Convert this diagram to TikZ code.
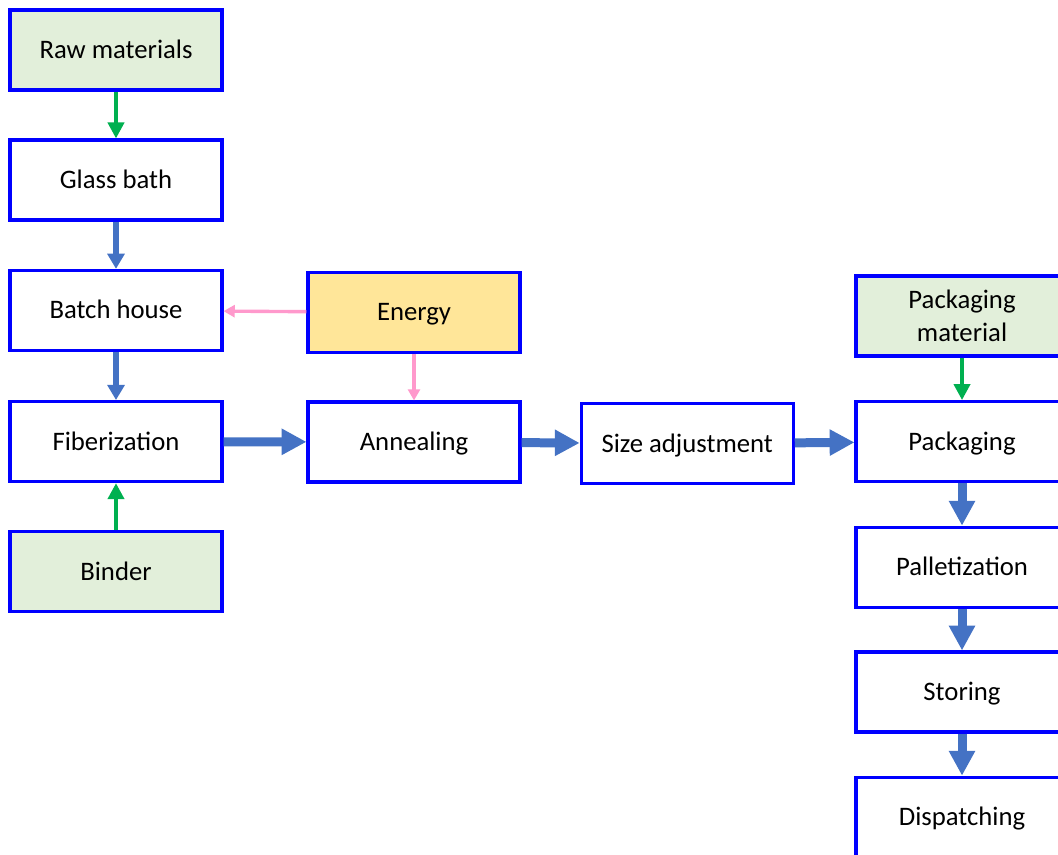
\documentclass[tikz,border=0pt]{standalone}
\usepackage{fontspec}
\setmainfont{Carlito}
\usepackage{tikz}
\usetikzlibrary{arrows.meta}
\definecolor{boxblue}{HTML}{0000FF}
\definecolor{inputgreen}{HTML}{E2EFDA}
\definecolor{energyfill}{HTML}{FFE699}
\definecolor{flowblue}{HTML}{4472C4}
\definecolor{feedgreen}{HTML}{00B050}
\definecolor{energypink}{HTML}{FF99CC}

\begin{document}
\begin{tikzpicture}[thick,
  every node/.style={font=\fontsize{19}{23.4}\selectfont},
  stage/.style={draw=boxblue,line width=2.2pt,fill=white,minimum width=5.3cm,minimum height=2cm,inner sep=0pt,text height=12.2pt,text depth=0pt},
  feed/.style={stage,fill=inputgreen},
  mainflow/.style={draw=flowblue,line width=6.4pt,-{Triangle[length=0.62cm,width=0.62cm]}},
  sideflow/.style={draw=flowblue,line width=3.8pt,-{Triangle[length=0.38cm,width=0.42cm]}},
  greenflow/.style={draw=feedgreen,line width=2.8pt,-{Triangle[length=0.4cm,width=0.4cm]}},
  pinkflow/.style={draw=energypink,line width=2.4pt,-{Triangle[length=0.28cm,width=0.3cm]}}]
\clip (0,0) rectangle (26.45,-21.35);
\fill[white] (0,0) rectangle (26.45,-21.35);
% left column
\node[feed] (raw) at (2.9,-1.25) {Raw materials};
\node[stage] (glass) at (2.9,-4.5) {Glass bath};
\node[stage] (batch) at (2.9,-7.76) {Batch house};
\node[stage] (fiber) at (2.9,-11.04) {Fiberization};
\node[feed] (binder) at (2.9,-14.29) {Binder};
% middle
\node[stage,fill=energyfill] (energy) at (10.35,-7.81) {Energy};
\node[stage] (anneal) at (10.35,-11.05) {Annealing};
\node[stage] (size) at (17.18,-11.09) {Size adjustment};
% right column
\node[feed,text height=,text depth=,align=center] (packmat) at (24.05,-7.9) {Packaging\\material};
\node[stage] (packing) at (24.05,-11.04) {Packaging};
\node[stage] (pallet) at (24.05,-14.18) {Palletization};
\node[stage] (storing) at (24.05,-17.3) {Storing};
\node[stage] (dispatch) at (24.05,-20.43) {Dispatching};

\draw[greenflow] (raw) -- (glass);
\draw[sideflow] (glass) -- (batch);
\draw[sideflow] (batch) -- (fiber);
\draw[greenflow] (binder) -- (fiber);
\draw[pinkflow] (energy) -- (batch);
\draw[pinkflow] (energy) -- (anneal);
\draw[mainflow] (fiber) -- (anneal);
\draw[mainflow] (anneal) -- (size);
\draw[mainflow] (size) -- (packing);
\draw[greenflow] (packmat) -- (packing);
\draw[mainflow] (packing) -- (pallet);
\draw[mainflow] (pallet) -- (storing);
\draw[mainflow] (storing) -- (dispatch);
\end{tikzpicture}
\end{document}
